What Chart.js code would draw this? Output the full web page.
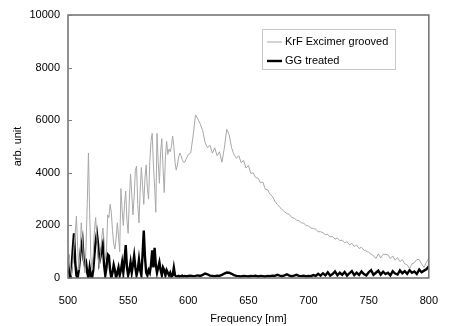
<!DOCTYPE html>
<html>
<head>
<meta charset="utf-8">
<script src="https://cdn.jsdelivr.net/npm/chart.js@4.4.1/dist/chart.umd.min.js"></script>
<style>
html,body{margin:0;padding:0;background:#fff;}
#wrap{width:454px;height:326px;}
</style>
</head>
<body>
<div id="wrap"><canvas id="c" width="454" height="326"></canvas></div>
<script>
const wavelengths = [
500,501,502,503,504,505,506,507,508,509,
510,511,512,513,514,515,516,517,518,519,
520,521,522,523,524,525,526,527,528,529,
530,531,532,533,534,535,536,537,538,539,
540,541,542,543,544,545,546,547,548,549,
550,551,552,553,554,555,556,557,558,559,
560,561,562,563,564,565,566,567,568,569,
570,571,572,573,574,575,576,577,578,579,
580,581,582,583,584,585,586,587,588,589,
590,591,592,593,594,595,596,597,598,599,
600,
602,604,606,608,610,612,614,616,618,620,
622,624,626,628,630,632,634,636,638,640,
642,644,646,648,650,652,654,656,658,660,
662,664,666,668,670,672,674,676,678,680,
682,684,686,688,690,692,694,696,698,700,
702,704,706,708,710,712,714,716,718,720,
722,724,726,728,730,732,734,736,738,740,
742,744,746,748,750,752,754,756,758,760,
762,764,766,768,770,772,774,776,778,780,
782,784,786,788,790,792,794,796,798,800
];
const krfGrooved = [
300,900,400,100,600,1200,1700,2350,1200,300,
900,2100,1500,600,200,1200,2800,4750,2500,800,
300,900,1800,2300,1500,800,400,900,1500,1900,
1400,700,1000,2400,2300,2800,2500,1800,1300,1100,
1500,2100,1600,1000,3400,2600,2000,2800,3300,2200,
1700,3000,3950,3200,2400,3100,4100,4250,2800,2100,
3300,4200,3500,2800,3800,4300,3400,3000,4400,5200,
5500,4300,3500,2500,5500,4400,3600,4800,5300,4200,
3250,4600,5200,4700,4900,4800,5000,5400,5000,4400,
4100,4300,4600,4750,4650,4500,4400,4400,4500,4600,
4700,
4750,5400,6200,6050,5850,5600,5150,4950,5050,4750,
4950,4650,4800,4400,4950,5650,5450,4950,4700,4550,
4650,4380,4480,4180,4280,3980,4000,3820,3800,3620,
3650,3380,3350,3180,3100,2920,2800,2700,2600,2520,
2450,2420,2300,2280,2200,2180,2100,2080,2000,1980,
1900,1880,1850,1760,1760,1720,1640,1660,1560,1580,
1480,1520,1420,1440,1340,1380,1260,1320,1200,1250,
1120,1170,1060,1020,980,900,850,740,920,760,
900,900,880,740,840,680,780,620,700,540,
500,360,540,580,700,700,540,400,600,750
];
const ggTreated = [
600,200,0,400,1100,1700,600,100,0,300,
800,1200,1450,700,500,600,200,0,400,100,
0,300,900,1400,1700,1300,600,800,1100,1300,
500,100,400,900,850,300,0,200,500,300,
0,200,400,100,300,600,200,700,1250,400,
100,300,600,200,500,850,400,100,300,700,
300,100,900,1800,800,200,100,300,200,500,
1050,400,1150,500,200,400,600,300,100,400,
300,100,300,200,100,200,50,100,400,100,
60,60,80,50,70,90,60,80,70,60,
80,
90,70,80,100,80,120,170,140,90,80,
70,90,80,120,170,210,200,160,110,80,
70,60,80,70,60,80,70,90,60,80,
70,60,80,70,90,80,120,90,70,100,
140,90,70,90,120,80,70,90,60,80,
70,110,80,160,90,180,100,220,90,150,
250,100,200,120,230,90,180,260,110,200,
120,250,150,100,220,300,120,200,280,130,
240,150,200,100,260,170,130,290,180,260,
160,300,200,250,150,320,220,280,330,450
];
const xTicks = [500,550,600,650,700,750,800];
const yTicks = [0,2000,4000,6000,8000,10000];
const seriesNames = ['KrF Excimer grooved','GG treated'];

const FONT = '"Liberation Sans", Arial, sans-serif';

const framePlugin = {
  id: 'frame',
  afterDatasetsDraw(chart) {
    const {ctx, chartArea: a, scales} = chart;
    ctx.save();
    ctx.strokeStyle = '#6e6e6e';
    ctx.lineWidth = 1.5;
    ctx.strokeRect(a.left, a.top, a.right - a.left, a.bottom - a.top);
    ctx.lineWidth = 1;
    ctx.strokeStyle = '#808080';
    yTicks.forEach(v => {
      const y = Math.round(scales.y.getPixelForValue(v)) + 0.5;
      ctx.beginPath(); ctx.moveTo(a.left, y); ctx.lineTo(a.left + 4, y); ctx.stroke();
    });
    ctx.restore();
  },
  afterDraw(chart) {
    const {ctx} = chart;
    const ds = chart.data.datasets;
    ctx.save();
    const bx = 262, by = 29, bw = 133, bh = 40;
    ctx.fillStyle = '#fff';
    ctx.fillRect(bx, by, bw, bh);
    ctx.strokeStyle = '#c8c8c8';
    ctx.lineWidth = 1;
    ctx.strokeRect(bx + 0.5, by + 0.5, bw, bh);
    ctx.font = '11px ' + FONT;
    ctx.textBaseline = 'middle';
    ctx.fillStyle = '#000';
    const rows = [42, 61];
    ds.forEach((d, i) => {
      ctx.strokeStyle = d.borderColor;
      ctx.lineWidth = d.borderWidth;
      ctx.beginPath(); ctx.moveTo(267, rows[i]); ctx.lineTo(282, rows[i]); ctx.stroke();
      ctx.fillText(d.label, 285, rows[i]);
    });
    ctx.restore();
  }
};

new Chart(document.getElementById('c'), {
  type: 'line',
  data: {
    datasets: [
      {
        label: seriesNames[0],
        data: wavelengths.map((w, i) => ({x: w, y: krfGrooved[i]})),
        borderColor: '#a8a8a8',
        borderWidth: 1,
        pointRadius: 0,
        tension: 0
      },
      {
        label: seriesNames[1],
        data: wavelengths.map((w, i) => ({x: w, y: ggTreated[i]})),
        borderColor: '#000000',
        borderWidth: 2.4,
        pointRadius: 0,
        tension: 0
      }
    ]
  },
  options: {
    responsive: false,
    animation: false,
    devicePixelRatio: 1,
    layout: {padding: {top: 15, right: 11, bottom: 0, left: 0}},
    plugins: {legend: {display: false}, tooltip: {enabled: false}},
    scales: {
      x: {
        type: 'linear', min: 500, max: 800,
        afterBuildTicks: s => { s.ticks = xTicks.map(v => ({value: v})); },
        afterFit: s => { s.height = 48; },
        grid: {display: false, drawTicks: false},
        border: {display: false},
        ticks: {font: {size: 11, family: FONT}, color: '#000', padding: 16, maxRotation: 0, callback: v => String(v)},
        title: {display: true, text: 'Frequency [nm]', font: {size: 11, family: FONT}, color: '#000', padding: {top: 0, bottom: 0}}
      },
      y: {
        type: 'linear', min: 0, max: 10000,
        afterBuildTicks: s => { s.ticks = yTicks.map(v => ({value: v})); },
        afterFit: s => { s.width = 68; },
        grid: {display: false, drawTicks: false},
        border: {display: false},
        ticks: {font: {size: 11, family: FONT}, color: '#000', padding: 8, callback: v => String(v)},
        title: {display: true, text: 'arb. unit', font: {size: 11, family: FONT}, color: '#000', padding: {top: 11, bottom: 0}}
      }
    }
  },
  plugins: [framePlugin]
});
</script>
</body>
</html>
